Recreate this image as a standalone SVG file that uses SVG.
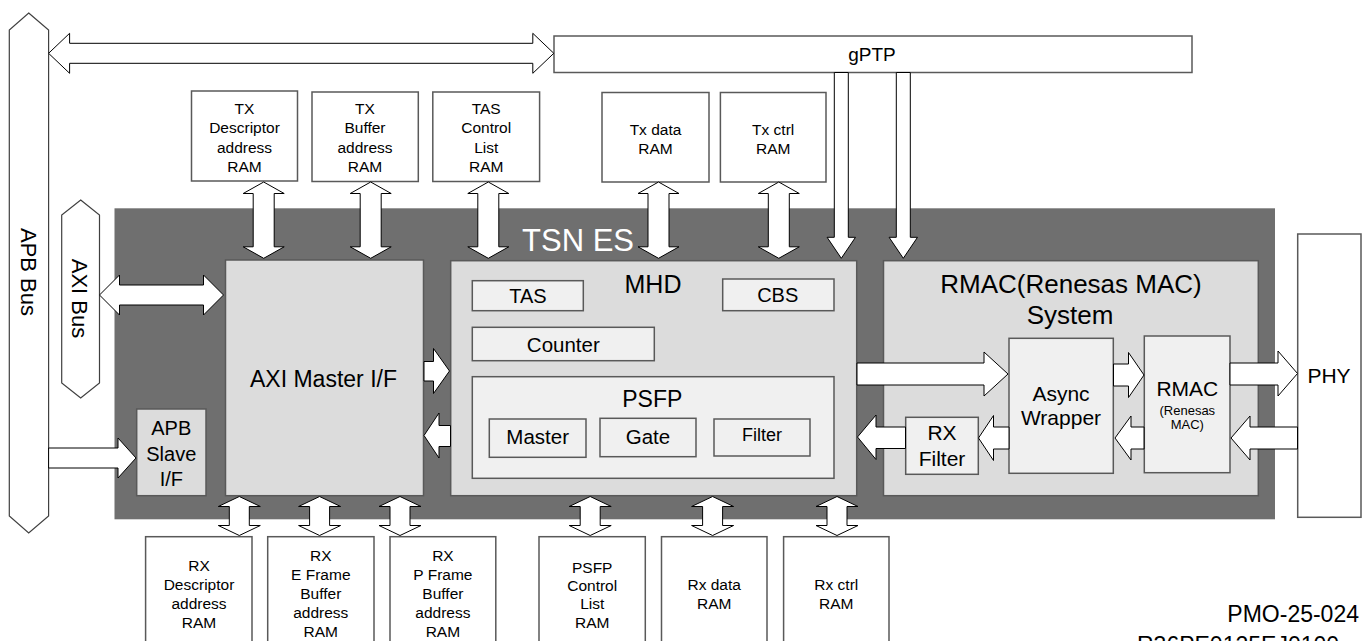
<svg xmlns="http://www.w3.org/2000/svg" xmlns:xlink="http://www.w3.org/1999/xlink" width="1367" height="641" viewBox="0 0 1367 641">
<style>
.box{fill:#fff;stroke:#595959;stroke-width:1.5}
.g1{fill:#dcdcdc;stroke:#595959;stroke-width:1.5}
.g2{fill:#f0f0f0;stroke:#595959;stroke-width:1.5}
.arr{fill:#fff;stroke:#000;stroke-width:1}
.bus{fill:#fff;stroke:#404040;stroke-width:1.2}
text{font-family:"Liberation Sans",Arial,sans-serif;fill:#000;text-anchor:middle}
.ram{font-size:15.5px}
</style>
<defs>
<polygon id="vtop" class="arr" points="0,182 20.5,193.5 10.5,193.5 10.5,246.8 20.5,246.8 0,258.3 -20.5,246.8 -10.5,246.8 -10.5,193.5 -20.5,193.5"/>
<polygon id="vbot" class="arr" points="0,496.5 21,506.5 10,506.5 10,525.5 21,525.5 0,535.5 -21,525.5 -10,525.5 -10,506.5 -21,506.5"/>
<polygon id="vdown" class="arr" points="-7,72.5 7,72.5 7,237.3 14.2,237.3 0,258.3 -14.2,237.3 -7,237.3"/>
</defs>
<rect width="1367" height="641" fill="#fff"/>

<g id="apb-bus">
<polygon class="bus" points="28.7,13 48.6,30 48.6,516 28.7,533 9.3,516 9.3,30"/>
<text font-size="22" transform="translate(20.5,272) rotate(90)">APB Bus</text>
</g>

<g id="tsn-es">
<rect x="114.5" y="208.3" width="1160.5" height="311" fill="#6f6f6f"/>
<text x="578" y="250.7" font-size="31" style="fill:#fff">TSN ES</text>
</g>

<g id="axi-bus">
<polygon class="bus" points="80.7,200 99.5,215 99.5,383 80.7,398 61.7,383 61.7,215"/>
<text font-size="22" transform="translate(72,298.5) rotate(90)">AXI Bus</text>
</g>

<g id="gptp">
<rect class="box" x="554" y="36" width="638" height="36.5"/>
<text x="872" y="61" font-size="19">gPTP</text>
</g>

<g id="tx-desc-ram">
<rect class="box" x="191.5" y="91" width="106" height="90"/>
<text class="ram"><tspan x="244.5" y="113.5">TX</tspan><tspan x="244.5" y="133">Descriptor</tspan><tspan x="244.5" y="152.5">address</tspan><tspan x="244.5" y="171.5">RAM</tspan></text>
</g>
<g id="tx-buf-ram">
<rect class="box" x="312" y="92" width="106.3" height="89.5"/>
<text class="ram"><tspan x="365" y="113.5">TX</tspan><tspan x="365" y="133">Buffer</tspan><tspan x="365" y="152.5">address</tspan><tspan x="365" y="171.5">RAM</tspan></text>
</g>
<g id="tas-ctrl-ram">
<rect class="box" x="432.8" y="92" width="106.8" height="89.5"/>
<text class="ram"><tspan x="486.2" y="113.5">TAS</tspan><tspan x="486.2" y="133">Control</tspan><tspan x="486.2" y="152.5">List</tspan><tspan x="486.2" y="171.5">RAM</tspan></text>
</g>
<g id="tx-data-ram">
<rect class="box" x="602" y="92.5" width="107" height="89.5"/>
<text class="ram"><tspan x="655.5" y="134.5">Tx data</tspan><tspan x="655.5" y="153.5">RAM</tspan></text>
</g>
<g id="tx-ctrl-ram">
<rect class="box" x="720.4" y="92.5" width="105.6" height="89.5"/>
<text class="ram"><tspan x="773.2" y="134.5">Tx ctrl</tspan><tspan x="773.2" y="153.5">RAM</tspan></text>
</g>

<g id="axi-master">
<rect class="g1" x="225.5" y="260" width="198" height="235.7"/>
<text x="323.5" y="386.7" font-size="23">AXI Master I/F</text>
</g>
<g id="apb-slave">
<rect class="g1" x="136.7" y="409" width="69.3" height="86.7"/>
<text font-size="20"><tspan x="171.3" y="435">APB</tspan><tspan x="171.3" y="460.7">Slave</tspan><tspan x="171.3" y="486">I/F</tspan></text>
</g>

<g id="mhd">
<rect class="g1" x="450.7" y="260.7" width="406" height="235"/>
<text x="653" y="292.7" font-size="25">MHD</text>
</g>
<g id="tas">
<rect class="g2" x="472.3" y="280.7" width="111" height="30"/>
<text x="528" y="303.3" font-size="20">TAS</text>
</g>
<g id="cbs">
<rect class="g2" x="722.7" y="279" width="111.3" height="31.7"/>
<text x="777.7" y="301.7" font-size="20">CBS</text>
</g>
<g id="counter">
<rect class="g2" x="472.3" y="327.3" width="182" height="33.4"/>
<text x="563.3" y="351.7" font-size="20.5">Counter</text>
</g>
<g id="psfp">
<rect class="g2" x="472.3" y="376.7" width="361.7" height="101.6"/>
<text x="652.3" y="406.7" font-size="23">PSFP</text>
</g>
<g id="master">
<rect class="g2" x="489.3" y="419" width="96.7" height="38.3"/>
<text x="537.7" y="444.3" font-size="20.5">Master</text>
</g>
<g id="gate">
<rect class="g2" x="600" y="418.3" width="96" height="38.4"/>
<text x="648" y="443.5" font-size="20.5">Gate</text>
</g>
<g id="filter">
<rect class="g2" x="714" y="419" width="96" height="37"/>
<text x="762" y="441" font-size="18">Filter</text>
</g>

<g id="rmac-system">
<rect class="g1" x="883.5" y="260.7" width="374.8" height="235"/>
<text font-size="26"><tspan x="1071" y="292.7">RMAC(Renesas MAC)</tspan><tspan x="1070" y="324">System</tspan></text>
</g>
<g id="async-wrapper">
<rect class="g2" x="1009" y="338.3" width="104.3" height="135"/>
<text font-size="21"><tspan x="1061" y="400.7">Async</tspan><tspan x="1061" y="425">Wrapper</tspan></text>
</g>
<g id="rmac">
<rect class="g2" x="1144.3" y="336" width="85.7" height="136.7"/>
<text x="1187.3" y="395.7" font-size="21">RMAC</text>
<text font-size="13"><tspan x="1187.3" y="415">(Renesas</tspan><tspan x="1187.3" y="429.3">MAC)</tspan></text>
</g>
<g id="rx-filter">
<rect class="g2" x="905.7" y="417.3" width="72.6" height="57"/>
<text font-size="21"><tspan x="942" y="440">RX</tspan><tspan x="942" y="466">Filter</tspan></text>
</g>
<g id="phy">
<rect class="box" x="1297.7" y="234" width="63.3" height="283.3"/>
<text x="1329" y="383.3" font-size="21">PHY</text>
</g>

<g id="rx-desc-ram">
<rect class="box" x="145.6" y="536.7" width="106.4" height="130"/>
<text class="ram"><tspan x="199" y="570.5">RX</tspan><tspan x="199" y="589.5">Descriptor</tspan><tspan x="199" y="608.5">address</tspan><tspan x="199" y="627.5">RAM</tspan></text>
</g>
<g id="rx-eframe-ram">
<rect class="box" x="267.7" y="536.7" width="106.3" height="130"/>
<text class="ram"><tspan x="320.8" y="560.5">RX</tspan><tspan x="320.8" y="580">E Frame</tspan><tspan x="320.8" y="599">Buffer</tspan><tspan x="320.8" y="618">address</tspan><tspan x="320.8" y="637">RAM</tspan></text>
</g>
<g id="rx-pframe-ram">
<rect class="box" x="390" y="536.7" width="105.8" height="130"/>
<text class="ram"><tspan x="442.9" y="560.5">RX</tspan><tspan x="442.9" y="580">P Frame</tspan><tspan x="442.9" y="599">Buffer</tspan><tspan x="442.9" y="618">address</tspan><tspan x="442.9" y="637">RAM</tspan></text>
</g>
<g id="psfp-ctrl-ram">
<rect class="box" x="539" y="536.7" width="106.3" height="130"/>
<text class="ram"><tspan x="592.2" y="572.5">PSFP</tspan><tspan x="592.2" y="590.5">Control</tspan><tspan x="592.2" y="609">List</tspan><tspan x="592.2" y="627.5">RAM</tspan></text>
</g>
<g id="rx-data-ram">
<rect class="box" x="661.5" y="536.7" width="105.5" height="130"/>
<text class="ram"><tspan x="714.2" y="589.5">Rx data</tspan><tspan x="714.2" y="609">RAM</tspan></text>
</g>
<g id="rx-ctrl-ram">
<rect class="box" x="783.6" y="536.7" width="105.4" height="130"/>
<text class="ram"><tspan x="836.3" y="589.5">Rx ctrl</tspan><tspan x="836.3" y="609">RAM</tspan></text>
</g>

<g id="connectors">
<polygon class="arr" points="48.6,53.3 69.6,33.3 69.6,43.3 532.8,43.3 532.8,33.3 553.8,53.3 532.8,73.3 532.8,63.3 69.6,63.3 69.6,73.3"/>
<polygon class="arr" points="99.5,295 119.5,275 119.5,285 203.5,285 203.5,275 223.5,295 203.5,315 203.5,305 119.5,305 119.5,315"/>
<polygon class="arr" points="48.6,448 118,448 118,438 136,458 118,478 118,468 48.6,468"/>
<use xlink:href="#vtop" x="263.7"/>
<use xlink:href="#vtop" x="370.7"/>
<use xlink:href="#vtop" x="488.3"/>
<use xlink:href="#vtop" x="658.5"/>
<use xlink:href="#vtop" x="778.8"/>
<use xlink:href="#vdown" x="841.3"/>
<use xlink:href="#vdown" x="903.3"/>
<use xlink:href="#vbot" x="239.3"/>
<use xlink:href="#vbot" x="319.6"/>
<use xlink:href="#vbot" x="400"/>
<use xlink:href="#vbot" x="590.2"/>
<use xlink:href="#vbot" x="712.6"/>
<use xlink:href="#vbot" x="837"/>
<polygon class="arr" points="424,361.5 433.5,361.5 433.5,348.5 449.5,371 433.5,393.5 433.5,381 424,381"/>
<polygon class="arr" points="450.5,425.5 439,425.5 439,413 424,435.5 439,458 439,446.5 450.5,446.5"/>
<polygon class="arr" points="857,363 984,363 984,352 1008,374 984,396 984,385 857,385"/>
<polygon class="arr" points="1113.5,364 1128.5,364 1128.5,352.5 1144,375 1128.5,397.5 1128.5,386 1113.5,386"/>
<polygon class="arr" points="1230,363 1278,363 1278,351 1297.5,373.5 1278,396 1278,385 1230,385"/>
<polygon class="arr" points="1297.5,427 1250,427 1250,416 1231,438 1250,460 1250,449 1297.5,449"/>
<polygon class="arr" points="1144,427 1131,427 1131,416 1115,438 1131,460 1131,449 1144,449"/>
<polygon class="arr" points="1009,427 993.5,427 993.5,415.5 978.5,438 993.5,460.5 993.5,449 1009,449"/>
<polygon class="arr" points="905.5,427 876,427 876,415 857.5,437 876,459.5 876,448.5 905.5,448.5"/>
</g>

<g id="doc-ids">
<text x="1359" y="621.7" font-size="23" style="text-anchor:end">PMO-25-024</text>
<text x="1137" y="653" font-size="23" style="text-anchor:start">R36PE0125EJ0100</text>
</g>
</svg>
